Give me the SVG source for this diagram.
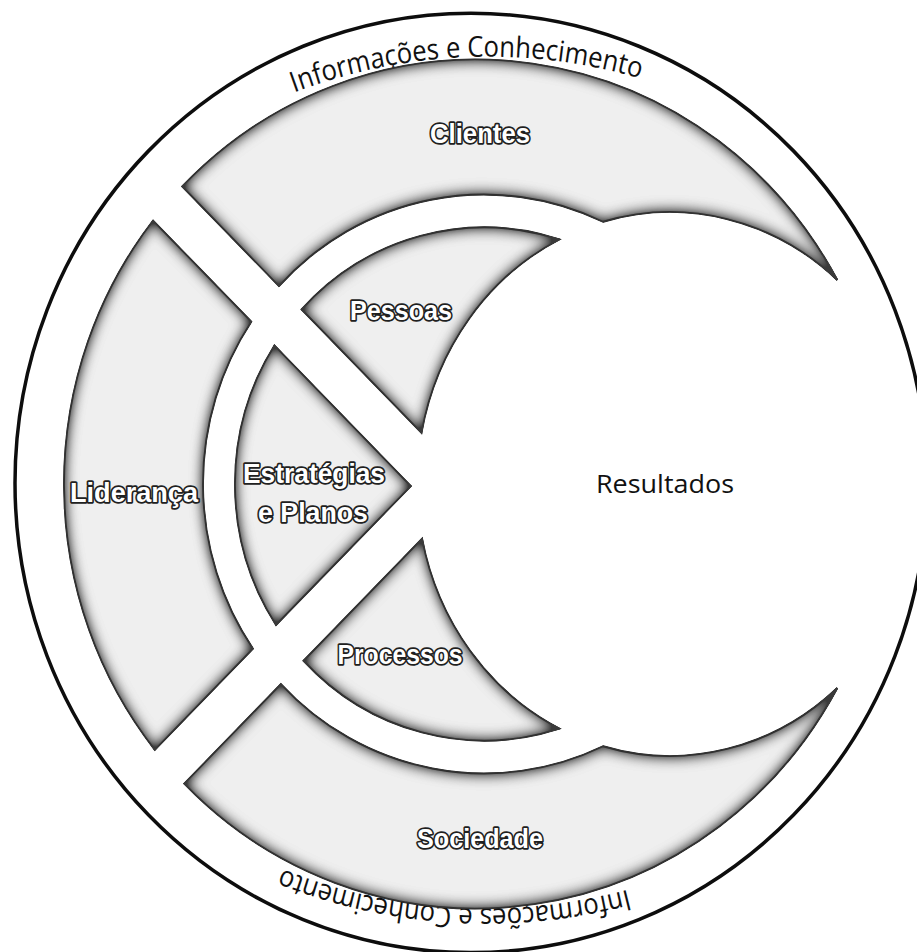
<svg xmlns="http://www.w3.org/2000/svg" width="917" height="952" viewBox="0 0 917 952">
<defs>
<style>
.reg{fill:#efefef;stroke:#141414;stroke-width:1.8;filter:url(#inset)}
.lbl{font-family:"Liberation Sans",Arial,sans-serif;font-weight:bold;font-size:27px;fill:#ffffff;stroke:#202020;stroke-width:3.4;paint-order:stroke;stroke-linejoin:round;text-anchor:middle}
.ringtxt{font-family:"Open Sans","DejaVu Sans",sans-serif;font-size:28px;fill:#111111;text-anchor:middle}
.res{font-family:"Open Sans","DejaVu Sans",sans-serif;font-size:26px;fill:#111111;text-anchor:middle}
.outer{fill:none;stroke:#0d0d0d;stroke-width:3.5}
</style>
<filter id="inset" x="-10%" y="-10%" width="120%" height="120%" color-interpolation-filters="sRGB">
<feGaussianBlur in="SourceAlpha" stdDeviation="7" result="b"/>
<feComposite in="SourceAlpha" in2="b" operator="arithmetic" k2="1.7" k3="-1.7" result="e"/>
<feFlood flood-color="#3a3a3a"/>
<feComposite in2="e" operator="in" result="s"/>
<feMerge><feMergeNode in="SourceGraphic"/><feMergeNode in="s"/></feMerge>
</filter>
<path id="topArc" d="M -472.6 -137.5 A 555 555 0 0 1 488.6 -137.5"/>
<path id="botArc" d="M 492.7 131 A 562 562 0 0 1 -480.7 131"/>
</defs>
<rect width="917" height="952" fill="#ffffff"/>

<g id="ring" transform="translate(480 484) scale(1 1.03)">
<circle class="outer" cx="-9" cy="-1" r="456"/>
<text class="ringtxt"><textPath href="#topArc" startOffset="559" textLength="352" lengthAdjust="spacingAndGlyphs">Informações e Conhecimento</textPath></text>
<text class="ringtxt"><textPath href="#botArc" startOffset="621" textLength="352" lengthAdjust="spacingAndGlyphs">Informações e Conhecimento</textPath></text>
</g>

<g id="clientes">
<path class="reg" transform="translate(480 484) scale(1 1.03)" d="M -297.8 -288.9 A 412 412 0 0 1 357.3 -198.1 A 253 264 0 0 0 123 -254.6 A 281 281 0 0 0 -201.1 -192.2 Z"/>
<text class="lbl" x="480" y="143" textLength="100" lengthAdjust="spacingAndGlyphs">Clientes</text>
</g>

<g id="lideranca">
<path class="reg" transform="translate(480 484) scale(1 1.03)" d="M -326.9 -255.8 A 412 412 0 0 0 -325.2 258.1 L -227 159.9 A 281 281 0 0 1 -228.7 -157.6 Z"/>
<text class="lbl" x="134" y="502" textLength="128" lengthAdjust="spacingAndGlyphs">Liderança</text>
</g>

<g id="sociedade">
<path class="reg" transform="translate(480 484) scale(1 1.03)" d="M -295.8 290.9 A 412 412 0 0 0 357.3 198.1 A 253 264 0 0 1 123 254.6 A 281 281 0 0 1 -199.1 194.2 Z"/>
<text class="lbl" x="480" y="848" textLength="126" lengthAdjust="spacingAndGlyphs">Sociedade</text>
</g>

<g id="pessoas">
<path class="reg" transform="translate(480 484) scale(1 1.03)" d="M -178.4 -169.5 A 249 249 0 0 1 79.3 -237.4 A 253 264 0 0 0 -58.5 -49.6 Z"/>
<text class="lbl" x="401" y="320" textLength="102" lengthAdjust="spacingAndGlyphs">Pessoas</text>
</g>

<g id="estrategias">
<path class="reg" transform="translate(480 484) scale(1 1.03)" d="M -69.1 2 L -205.6 -134.5 A 249 249 0 0 0 -204 136.9 Z"/>
<text class="lbl" x="314" y="483" textLength="142" lengthAdjust="spacingAndGlyphs">Estratégias</text>
<text class="lbl" x="313" y="522" textLength="110" lengthAdjust="spacingAndGlyphs">e Planos</text>
</g>

<g id="processos">
<path class="reg" transform="translate(480 484) scale(1 1.03)" d="M -176.5 171.6 A 249 249 0 0 0 79.3 237.4 A 253 264 0 0 1 -57.9 53 Z"/>
<text class="lbl" x="400" y="664" textLength="125" lengthAdjust="spacingAndGlyphs">Processos</text>
</g>

<g id="resultados">
<text class="res" x="665" y="493" textLength="138" lengthAdjust="spacingAndGlyphs">Resultados</text>
</g>

<g id="connectors"/>
</svg>
